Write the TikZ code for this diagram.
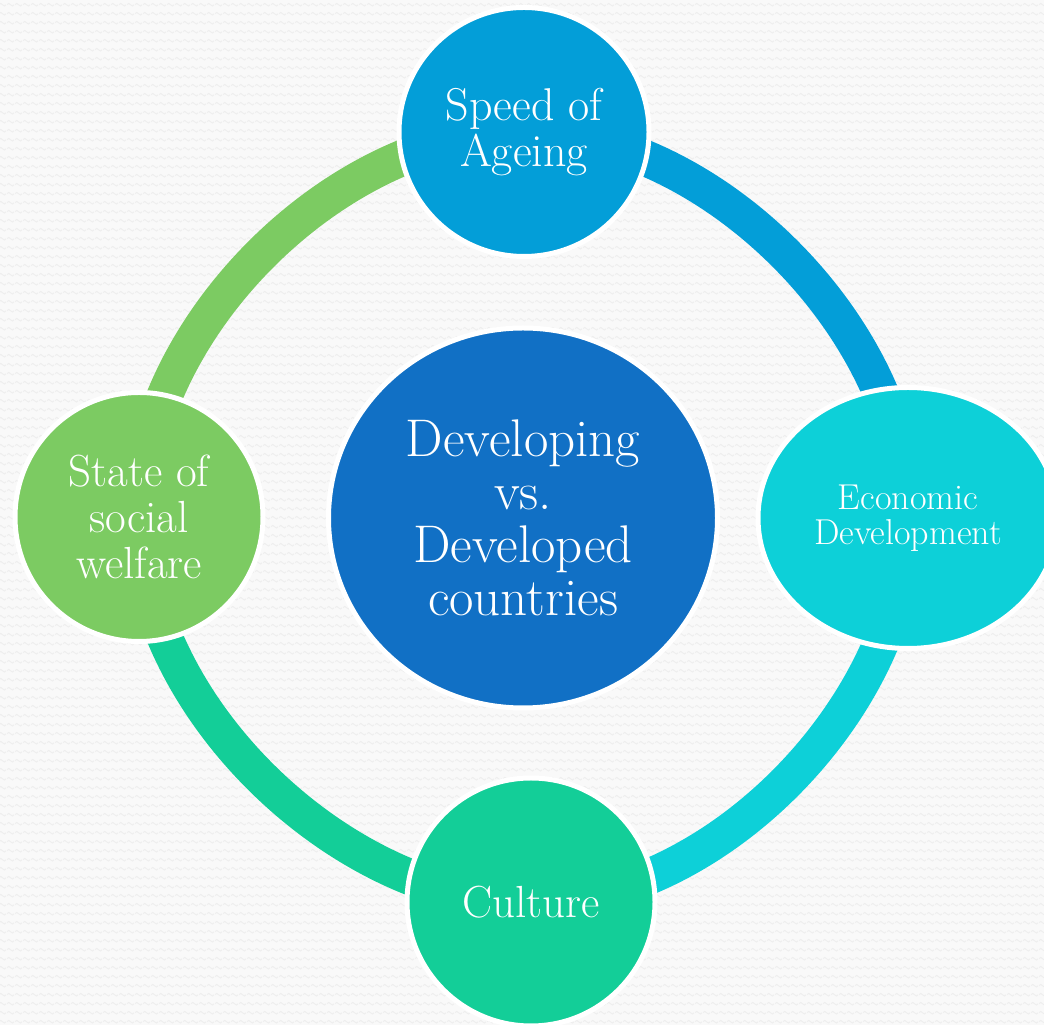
\documentclass[tikz,border=0pt]{standalone}
\usepackage{fontspec}
\usetikzlibrary{shapes.geometric,patterns,backgrounds}

\definecolor{hubblue}{HTML}{1170C5}
\definecolor{ageblue}{HTML}{039ED8}
\definecolor{econcyan}{HTML}{0DD0D8}
\definecolor{cultteal}{HTML}{13CE98}
\definecolor{welfgreen}{HTML}{7CCB62}
\definecolor{paper}{HTML}{F9F9F9}
\definecolor{wavegray}{HTML}{EEEEEE}

% one tile of the wavy paper
\pgfdeclarepatternformonly{paperwaves}{\pgfqpoint{0pt}{0pt}}{\pgfqpoint{8pt}{9.3pt}}{\pgfqpoint{8pt}{9.3pt}}{
  \pgfsetlinewidth{1pt}
  \pgfpathmoveto{\pgfqpoint{0pt}{4.6pt}}
  \pgfpathlineto{\pgfqpoint{2pt}{6pt}}
  \pgfpathlineto{\pgfqpoint{6pt}{3.2pt}}
  \pgfpathlineto{\pgfqpoint{8pt}{4.6pt}}
  \pgfusepath{stroke}
}

\tikzset{
  bubble/.style={ellipse, fill=#1, draw=white, line width=5pt, text=white,
    align=center, inner sep=0pt},
  ring/.style={draw=#1, line width=36pt, looseness=0.88},
}

\begin{document}
\begin{tikzpicture}[x=1pt, y=1pt]
  \useasboundingbox (0,0) rectangle (1044,1025);
  \clip (0,0) rectangle (1044,1025);

  \node[bubble=hubblue, minimum width=389pt, minimum height=380pt, font=\fontsize{53}{53}\selectfont] (hub) at (523,507) {Developing\\vs.\\Developed\\countries};
  \node[bubble=ageblue, minimum width=250pt, minimum height=249pt, font=\fontsize{46}{46}\selectfont] (ageing) at (524,893) {Speed of\\Ageing};
  \node[bubble=econcyan, minimum width=300pt, minimum height=261pt, font=\fontsize{36}{35}\selectfont] (economy) at (908,507) {Economic\\Development};
  \node[bubble=cultteal, minimum width=248pt, minimum height=248pt, font=\fontsize{45}{46}\selectfont] (culture) at (531,123) {Culture};
  \node[bubble=welfgreen, minimum width=248pt, minimum height=249pt, font=\fontsize{45}{46}\selectfont] (welfare) at (139,508) {State of\\social\\welfare};

  \begin{scope}[on background layer]
    % paper with faint wavy rows
    \fill[paper] (0,0) rectangle (1044,1025);
    \fill[pattern=paperwaves, pattern color=wavegray] (0,0) rectangle (1044,1025);

    % the ring, one arc per factor
    \draw[ring=welfgreen] (welfare.center) to[out=90, in=180] (ageing.center);
    \draw[ring=ageblue] (ageing.center) to[out=0, in=90] (economy.center);
    \draw[ring=econcyan] (economy.center) to[out=-90, in=0] (culture.center);
    \draw[ring=cultteal] (culture.center) to[out=180, in=-90] (welfare.center);
  \end{scope}
\end{tikzpicture}
\end{document}
